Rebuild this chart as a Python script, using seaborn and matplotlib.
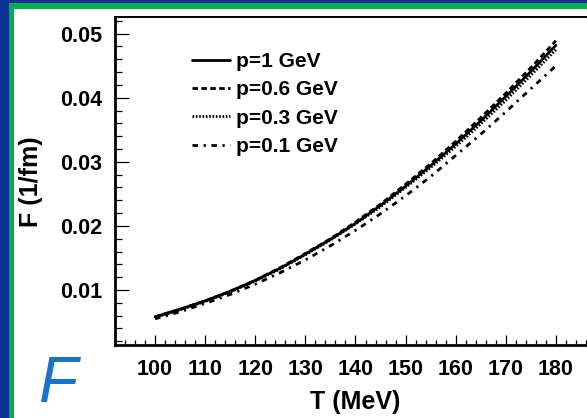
import numpy as np
import pandas as pd
import matplotlib
matplotlib.use("Agg")
import matplotlib.pyplot as plt
import seaborn as sns
from matplotlib.patches import Rectangle
from matplotlib.ticker import MultipleLocator

# Temperature grid (MeV)
T = [100, 105, 110, 115, 120, 125, 130, 135, 140, 145, 150, 155, 160, 165, 170, 175, 180]

# F (1/fm) for each momentum
F_p1 = [0.0058, 0.0070, 0.0083, 0.0098, 0.0115, 0.0134, 0.0156, 0.0179, 0.0204,
        0.0232, 0.0262, 0.0294, 0.0328, 0.0364, 0.0402, 0.0441, 0.0482]
F_p06 = [0.0058, 0.0070, 0.0083, 0.0098, 0.0115, 0.0135, 0.0157, 0.0180, 0.0206,
         0.0234, 0.0265, 0.0297, 0.0332, 0.0369, 0.0407, 0.0447, 0.0489]
F_p03 = [0.0057, 0.0069, 0.0082, 0.0097, 0.0114, 0.0133, 0.0155, 0.0178, 0.0203,
         0.0230, 0.0260, 0.0291, 0.0324, 0.0359, 0.0396, 0.0435, 0.0475]
F_p01 = [0.0055, 0.0066, 0.0079, 0.0093, 0.0109, 0.0127, 0.0147, 0.0169, 0.0193,
         0.0219, 0.0247, 0.0277, 0.0310, 0.0343, 0.0378, 0.0414, 0.0450]

labels = ["p=1 GeV", "p=0.6 GeV", "p=0.3 GeV", "p=0.1 GeV"]
styles = ["-", (0, (2.0, 1.2)), (0, (0.6, 0.6)), (0, (2.0, 2.0, 0.8, 2.0))]

sns.set_theme(style="white")
plt.rcParams["font.family"] = ["Liberation Sans", "DejaVu Sans"]
plt.rcParams["font.weight"] = "bold"
plt.rcParams["text.color"] = "black"
plt.rcParams["xtick.color"] = "black"
plt.rcParams["ytick.color"] = "black"

W, H = 587, 418
fig = plt.figure(figsize=(W / 100, H / 100), dpi=100)
fig.patch.set_facecolor("#0b3294")

# slide frame: green border strip and white panel
fig.patches.append(Rectangle((9 / W, 0), 1 - 9 / W, (H - 3) / H,
                             transform=fig.transFigure, facecolor="#00b050",
                             edgecolor="none", zorder=-2))
fig.patches.append(Rectangle((14 / W, 0), 1 - 14 / W, (H - 9) / H,
                             transform=fig.transFigure, facecolor="white",
                             edgecolor="none", zorder=-1))

ax = fig.add_axes([115 / W, (H - 344.7) / H, 481 / W, 328 / H])
ax.set_zorder(2)
ax.set_facecolor("white")

df = pd.DataFrame({"T": T * 4,
                   "F": F_p1 + F_p06 + F_p03 + F_p01,
                   "p": [l for l in labels for _ in T]})

for lab, ls in zip(labels, styles):
    sns.lineplot(data=df[df["p"] == lab], x="T", y="F", ax=ax, color="black",
                 linewidth=2.0, label=lab)
    ax.lines[-1].set_linestyle(ls)

ax.set_xlim(92, 188)
ax.set_ylim(0.00146, 0.05265)

ax.xaxis.set_minor_locator(MultipleLocator(2))
ax.yaxis.set_minor_locator(MultipleLocator(0.002))
ax.set_xticks([100, 110, 120, 130, 140, 150, 160, 170, 180])
ax.set_xticklabels(["100", "110", "120", "130", "140", "150", "160", "170", "180"])
ax.set_yticks([0.01, 0.02, 0.03, 0.04, 0.05])
ax.set_yticklabels(["0.01", "0.02", "0.03", "0.04", "0.05"])

ax.tick_params(axis="both", which="both", direction="in", colors="black",
               labelsize=15.5, width=0.9, bottom=True, left=True)
ax.tick_params(axis="y", which="major", length=10, pad=9)
ax.tick_params(axis="y", which="minor", length=5)
ax.tick_params(axis="x", which="major", length=7, pad=10)
ax.tick_params(axis="x", which="minor", length=3.5)
for t in ax.get_xticklabels() + ax.get_yticklabels():
    t.set_fontweight("bold")

for side in ["left", "bottom"]:
    ax.spines[side].set_linewidth(2.0)
    ax.spines[side].set_color("black")
ax.spines["top"].set_linewidth(1.4)
ax.spines["top"].set_color("black")
ax.spines["right"].set_visible(False)

ax.set_xlabel("")
ax.set_ylabel("")
fig.text(355 / W, (H - 402) / H, "T (MeV)", ha="center", va="center",
         fontsize=18, fontweight="bold", color="black")
fig.text(31 / W, (H - 182) / H, "F (1/fm)", ha="center", va="center",
         rotation=90, fontsize=18, fontweight="bold", color="black")

leg = ax.legend(loc="upper left", bbox_to_anchor=(192 / W, (H - 52) / H),
                bbox_transform=fig.transFigure, frameon=False,
                prop={"size": 15, "weight": "bold"}, handlelength=1.8,
                handletextpad=0.3, labelspacing=0.45, borderpad=0,
                borderaxespad=0)
for txt in leg.get_texts():
    txt.set_color("black")

fig.text(38 / W, (H - 402) / H, "F", ha="left", va="baseline",
         fontsize=46, fontstyle="italic", fontweight="normal", color="#1a72c9")

fig.savefig("out.png", dpi=100, facecolor=fig.get_facecolor())
